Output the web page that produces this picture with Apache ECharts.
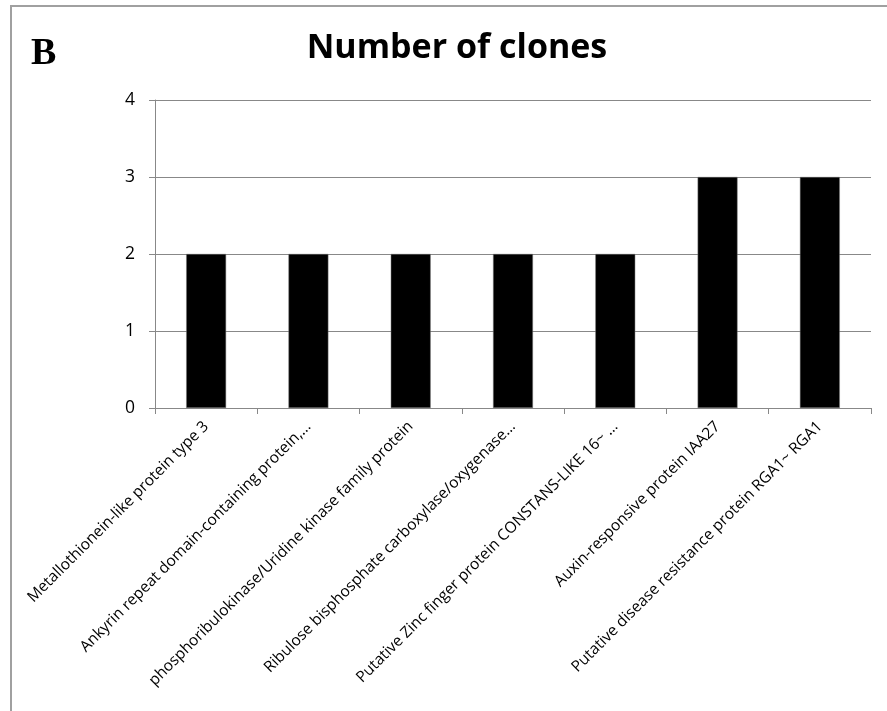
<!DOCTYPE html>
<html>
<head>
<meta charset="utf-8">
<script src="https://cdn.jsdelivr.net/npm/echarts@6/dist/echarts.min.js"></script>
<style>
html,body{margin:0;padding:0;background:#fff;}
#frame{position:absolute;left:10px;top:5px;width:900px;height:720px;border-left:2px solid #a0a0a0;border-top:2px solid #a0a0a0;box-sizing:border-box;}
#chart{position:absolute;left:0;top:0;width:887px;height:711px;}
</style>
</head>
<body>
<div id="frame"></div>
<div id="chart"></div>
<script>
const categories = [
  "Metallothionein-like protein type 3",
  "Ankyrin repeat domain-containing protein,…",
  "phosphoribulokinase/Uridine kinase family protein",
  "Ribulose bisphosphate carboxylase/oxygenase…",
  "Putative Zinc finger protein CONSTANS-LIKE 16~ …",
  "Auxin-responsive protein IAA27",
  "Putative disease resistance protein RGA1~ RGA1"
];
const clones = [2, 2, 2, 2, 2, 3, 3];
const yTicks = [0, 1, 2, 3, 4];

const chart = echarts.init(document.getElementById('chart'));
chart.setOption({
  animation: false,
  backgroundColor: 'transparent',
  title: [
    {text: 'Number of clones', left: 452, top: 26, textAlign: 'center',
     textStyle: {fontFamily: 'Open Sans', fontWeight: 'bold', fontSize: 34, color: '#000'}},
    {text: 'B', left: 26, top: 30,
     textStyle: {fontFamily: 'Liberation Serif', fontWeight: 'bold', fontSize: 38, color: '#000'}}
  ],
  grid: {left: 155, right: 16, top: 100, bottom: 303, containLabel: false},
  xAxis: {
    type: 'category',
    data: categories,
    axisLine: {lineStyle: {color: '#888', width: 1}},
    axisTick: {show: true, length: 6, lineStyle: {color: '#888'}},
    axisLabel: {rotate: 45, interval: 0, margin: 16, fontFamily: 'Open Sans', fontSize: 15.5, color: '#000'}
  },
  yAxis: {
    type: 'value',
    min: yTicks[0], max: yTicks[yTicks.length - 1], interval: 1,
    axisLine: {show: true, lineStyle: {color: '#888', width: 1}},
    axisTick: {show: true, length: 6, inside: false, lineStyle: {color: '#888'}},
    axisLabel: {fontFamily: 'Open Sans', fontSize: 17.5, color: '#000', margin: 20},
    splitLine: {lineStyle: {color: '#888', width: 1}}
  },
  series: [{
    type: 'bar',
    data: clones,
    barWidth: '39%',
    itemStyle: {color: '#000', borderColor: '#777', borderWidth: 0.5}
  }]
});
</script>
</body>
</html>
